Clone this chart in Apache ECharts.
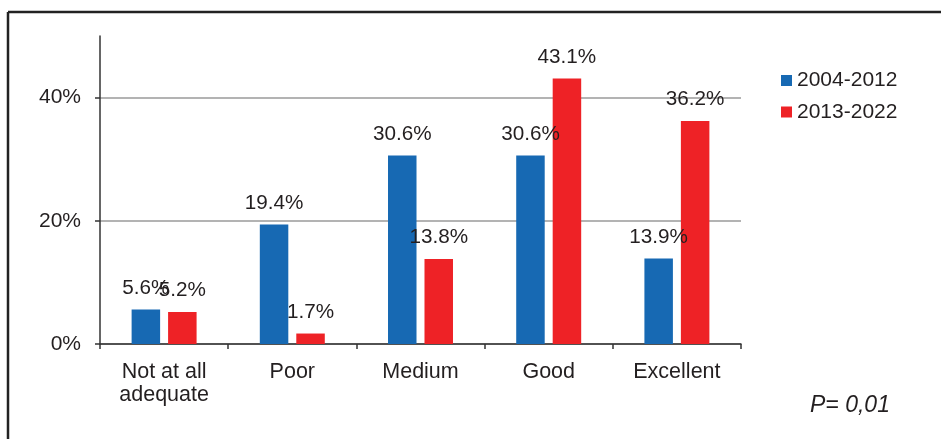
<!DOCTYPE html>
<html>
<head>
<meta charset="utf-8">
<script src="https://cdn.jsdelivr.net/npm/echarts@6/dist/echarts.min.js"></script>
<style>
  html, body { margin: 0; padding: 0; background: #fff; }
  #chart { width: 941px; height: 439px; }
</style>
</head>
<body>
<div id="chart"></div>
<script>
// Ratings by period, in percent
const categories = ['Not at all\nadequate', 'Poor', 'Medium', 'Good', 'Excellent'];
const seriesNames = ['2004-2012', '2013-2022'];
const values2004 = [5.6, 19.4, 30.6, 30.6, 13.9];
const values2013 = [5.2, 1.7, 13.8, 43.1, 36.2];
const yTicks = [0, 20, 40];
const pValueText = 'P= 0,01';

const FONT = "'Liberation Sans', Arial, sans-serif";
const TEXT = '#231f20';
const colors = ['#1769b3', '#ee2226'];

const chart = echarts.init(document.getElementById('chart'));

function barSeries(name, data, color) {
  return {
    name: name,
    type: 'bar',
    data: data,
    barWidth: 28.5,
    barGap: '28%',
    itemStyle: { color: color },
    label: {
      show: true,
      position: 'top',
      distance: 11,
      formatter: p => p.value.toFixed(1) + '%',
      fontFamily: FONT,
      fontSize: 20.7,
      color: TEXT
    },
    emphasis: { disabled: true }
  };
}

chart.setOption({
  animation: false,
  backgroundColor: '#fff',
  textStyle: { fontFamily: FONT },
  grid: { left: 100, right: 200, top: 36, bottom: 95, containLabel: false },
  legend: {
    orient: 'vertical',
    left: 781,
    top: 70,
    padding: 0,
    itemWidth: 11,
    itemHeight: 11,
    itemGap: 10.5,
    icon: 'rect',
    textStyle: { fontFamily: FONT, fontSize: 21, color: TEXT },
    data: seriesNames
  },
  xAxis: {
    type: 'category',
    data: categories,
    axisLine: { lineStyle: { color: '#333', width: 1.5 } },
    axisTick: { show: true, length: 5, lineStyle: { color: '#333', width: 1.5 } },
    axisLabel: {
      fontFamily: FONT,
      fontSize: 21.5,
      lineHeight: 23,
      color: TEXT,
      margin: 17,
      interval: 0
    }
  },
  yAxis: {
    type: 'value',
    min: 0,
    max: 50,
    interval: 20,
    axisLine: { show: true, lineStyle: { color: '#333', width: 1.5 } },
    axisTick: { show: true, length: 5, inside: false, customValues: yTicks, lineStyle: { color: '#333', width: 1.5 } },
    axisLabel: {
      customValues: yTicks,
      formatter: v => v + '%',
      fontFamily: FONT,
      fontSize: 21,
      color: TEXT,
      margin: 19
    },
    splitLine: {
      show: true,
      lineStyle: { color: ['#b3b3b3', '#b3b3b3', '#b3b3b3', 'rgba(0,0,0,0)'], width: 2 }
    }
  },
  series: [
    barSeries(seriesNames[0], values2004, colors[0]),
    barSeries(seriesNames[1], values2013, colors[1])
  ],
  graphic: [
    { type: 'line', shape: { x1: 8, y1: 12, x2: 941, y2: 12 }, style: { stroke: '#222', lineWidth: 2.5 } },
    { type: 'line', shape: { x1: 8, y1: 12, x2: 8, y2: 439 }, style: { stroke: '#222', lineWidth: 2.5 } },
    {
      type: 'text',
      left: 810,
      top: 394,
      style: { text: pValueText, font: 'italic 23px ' + FONT, fill: TEXT }
    }
  ]
});
</script>
</body>
</html>
